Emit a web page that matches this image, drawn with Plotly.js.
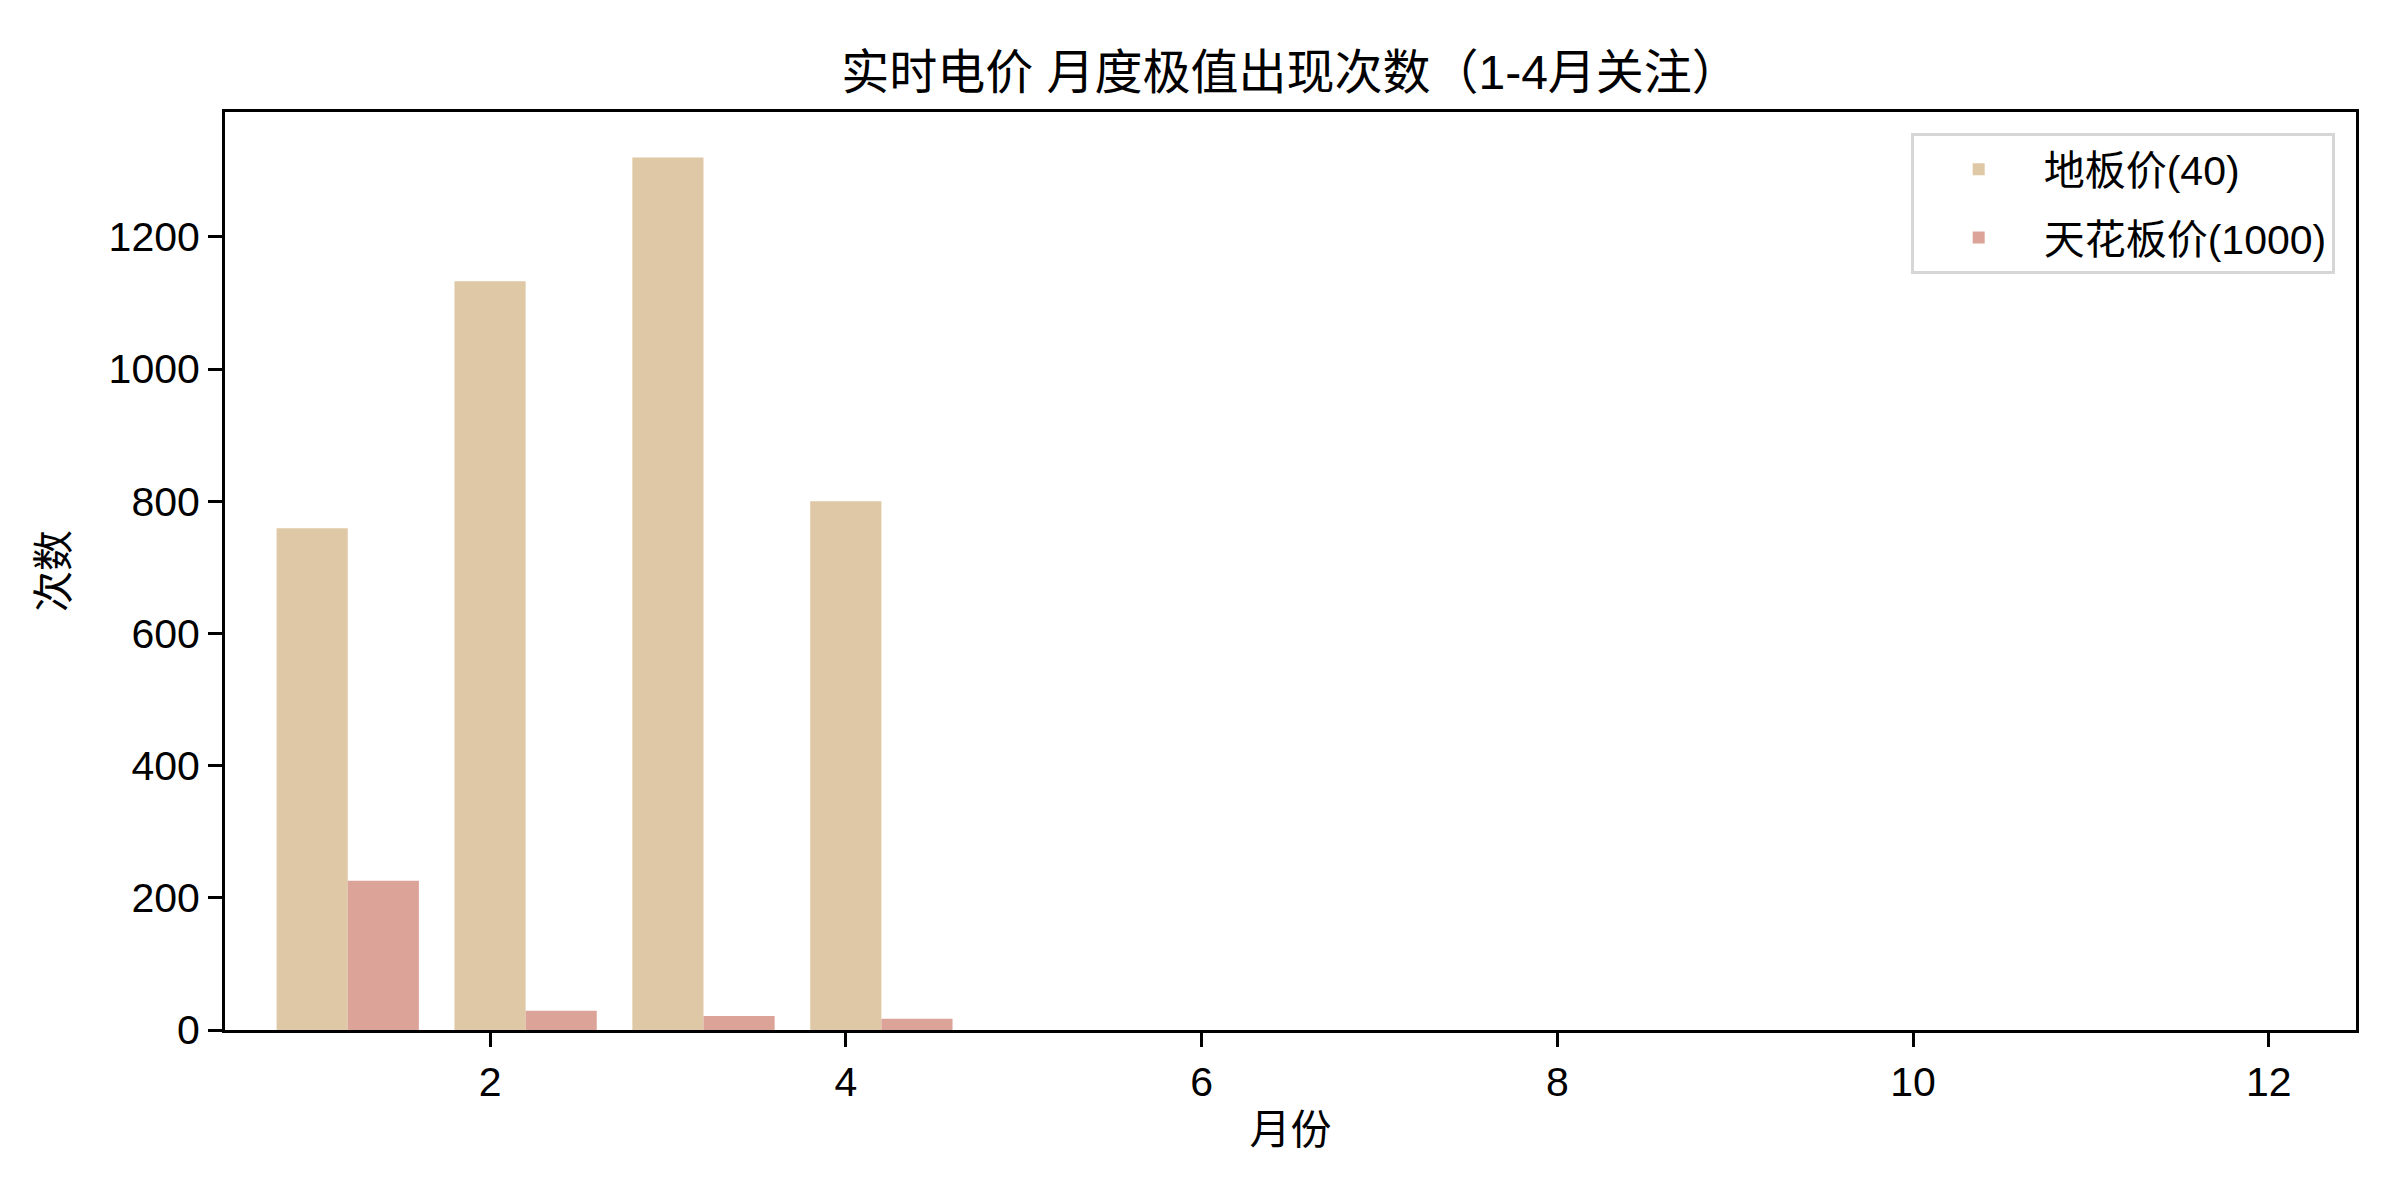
<!DOCTYPE html>
<html>
<head>
<meta charset="utf-8">
<script src="https://cdn.plot.ly/plotly-3.0.1.min.js"></script>
<style>
  html, body { margin: 0; padding: 0; background: #ffffff; }
  #grafico { width: 2400px; height: 1200px; }
</style>
</head>
<body>
<div id="grafico"></div>
<script>
// Datos: meses y conteos de precios extremos
const meses = [1, 2, 3, 4, 5, 6, 7, 8, 9, 10, 11, 12];
const conteoSuelo = [759, 1133, 1320, 800, 0, 0, 0, 0, 0, 0, 0, 0];   // 地板价(40)
const conteoTecho = [226, 29, 21, 17, 0, 0, 0, 0, 0, 0, 0, 0];        // 天花板价(1000)
const ticksMes = [2, 4, 6, 8, 10, 12];

const fuente = 'Liberation Sans, Arial, "Noto Sans CJK SC", sans-serif';

const trazaSuelo = {
    x: meses,
    y: conteoSuelo,
    type: 'bar',
    name: '地板价(40)',
    legendgroup: 'suelo',
    offset: -0.2,
    width: 0.4,
    marker: { color: '#dfc8a5', line: { width: 0 } },
    hoverinfo: 'skip'
};

const trazaTecho = {
    x: meses,
    y: conteoTecho,
    type: 'bar',
    name: '天花板价(1000)',
    legendgroup: 'techo',
    offset: 0.2,
    width: 0.4,
    marker: { color: '#dca499', line: { width: 0 } },
    hoverinfo: 'skip'
};

// ejes estilo matplotlib: caja negra, ticks hacia fuera
const ejeBase = {
    showline: true,
    linecolor: '#000000',
    linewidth: 3,
    mirror: true,
    ticks: 'outside',
    ticklen: 14,
    tickwidth: 3,
    tickcolor: '#000000',
    showgrid: false,
    zeroline: false,
    tickfont: { family: fuente, size: 41, color: '#000000' }
};

const layout = {
    width: 2400,
    height: 1200,
    paper_bgcolor: '#ffffff',
    plot_bgcolor: '#ffffff',
    font: { family: fuente, color: '#000000' },
    margin: { l: 225, r: 44, t: 112, b: 170, autoexpand: false },
    barmode: 'overlay',
    title: {
        text: '实时电价 月度极值出现次数（1-4月关注）',
        font: { family: fuente, size: 48, color: '#000000' },
        x: 0.5,
        xref: 'paper',
        xanchor: 'center',
        y: 1 - 72 / 1200,
        yanchor: 'middle'
    },
    xaxis: {
        ...ejeBase,
        range: [0.51, 12.49],
        tickvals: ticksMes,
        ticktext: ticksMes.map(String),
        title: {
            text: '月份',
            font: { family: fuente, size: 41, color: '#000000' },
            standoff: 12
        }
    },
    yaxis: {
        ...ejeBase,
        range: [0, 1389],
        dtick: 200,
        tick0: 0,
        title: {
            text: '次数',
            font: { family: fuente, size: 41, color: '#000000' },
            standoff: 28
        }
    },
    showlegend: true,
    legend: {
        x: 0.99,
        y: 0.977,
        xanchor: 'right',
        yanchor: 'top',
        bgcolor: '#ffffff',
        bordercolor: '#d6d6d6',
        borderwidth: 3,
        traceorder: 'grouped',
        tracegroupgap: 12,
        font: { family: fuente, size: 41, color: '#000000' },
        itemwidth: 120
    }
};

Plotly.newPlot('grafico', [trazaSuelo, trazaTecho], layout, {
    displayModeBar: false,
    staticPlot: true
});
</script>
</body>
</html>
